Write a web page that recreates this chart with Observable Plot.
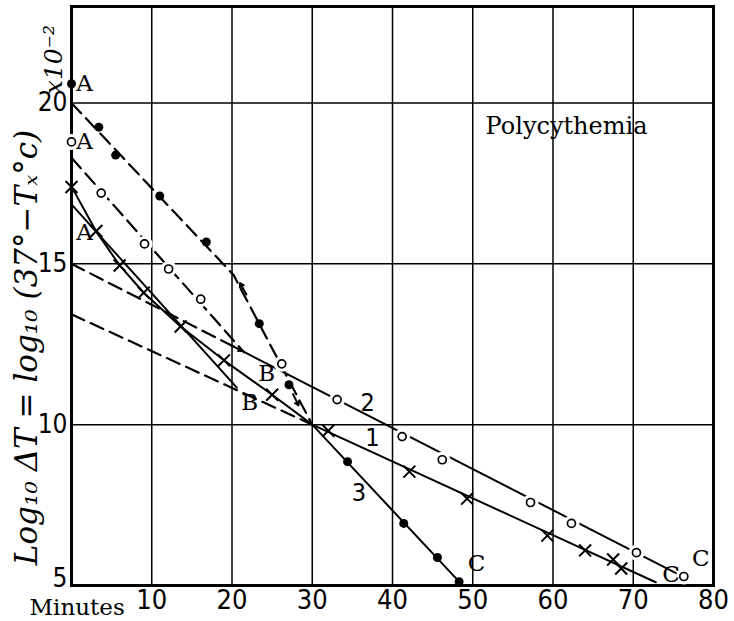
<!DOCTYPE html>
<html><head><meta charset="utf-8">
<script src="https://cdn.jsdelivr.net/npm/d3@7"></script>
<script src="https://cdn.jsdelivr.net/npm/@observablehq/plot@0.6"></script>
<style>body{margin:0;background:#fff}svg{display:block}</style>
</head><body><div id="chart"></div>
<script>
// ---- data (minutes, log10 ΔT × 10^2) ----
const xTicks = [10, 20, 30, 40, 50, 60, 70, 80];
const yTicks = [10, 15, 20];
const yTickBottom = [5];

// curve 3 : filled dots
const dots3 = [[0,20.6],[3.4,19.25],[5.5,18.38],[11.0,17.11],[16.8,15.68],[23.4,13.14],[27.1,11.24],[34.4,8.85],[41.4,6.93],[45.6,5.87],[48.3,5.12]];
// curve 2 : open circles
const circles2 = [[0,18.79],[3.7,17.2],[9.1,15.62],[12.1,14.84],[16.1,13.9],[26.2,11.89],[33.1,10.78],[41.2,9.63],[46.2,8.91],[57.2,7.58],[62.3,6.93],[70.4,6.02],[76.3,5.28]];
// curve 1 : crosses
const crosses1 = [[0,17.39],[3.1,16.02],[6.0,14.95],[9.0,14.1],[13.6,13.05],[19.0,12.0],[25.0,10.93],[32.0,9.81],[42.1,8.54],[49.3,7.70],[59.3,6.55],[64.0,6.09],[67.5,5.81],[68.5,5.53]];

// fitted lines
const line3Dashed = [[0,20],[20.2,14.65],[30,10]];
const line3Solid  = [[30,10],[48.3,5.12]];
const line2Early  = [[0,18.3],[21.5,12.25]];
const line2Extrap = [[0,15],[21.2,12.3]];
const line2Solid  = [[21.2,12.3],[76.3,5.26]];
const line1Curve  = [[0,17.4],[3.1,16.0],[6,14.95],[9,14.1],[13.6,13.05],[19,12.0],[25,10.93],[30,10],[72.8,5.1]];
const line1Early  = [[0,16.85],[20.6,11.15]];
const line1Extrap = [[0,13.43],[30,10]];

// arrowheads on dashed lines [x1,y1,x2,y2]
const arrows = [[20.0,12.45,21.2,12.3],[21.8,14.05,21.0,14.4],[27.6,10.95,28.3,10.6]];

// annotation labels
const letters = [
  {x:0, y:20.6, t:"A"}, {x:0, y:18.79, t:"A"}, {x:0, y:15.96, t:"A"},
  {x:22.7, y:11.6, t:"B"}, {x:20.6, y:10.68, t:"B"},
  {x:48.85, y:5.68, t:"C"}, {x:73.1, y:5.34, t:"C"}, {x:76.8, y:5.84, t:"C"}
];
const numbers = [{x:36.9, y:10.68, t:"2"}, {x:37.5, y:9.6, t:"1"}, {x:35.8, y:7.89, t:"3"}];
const title = "Polycythemia";
const yLabel = "Log\u2081\u2080 \u0394T = log\u2081\u2080 (37\u00b0\u2212T\u2093\u00b0c)";
const yUnit = "x10\u207b\u00b2";
const xLabel = "Minutes";

const toXY = a => a.map(([x,y]) => ({x,y}));
const dash = "14,7";
const serif = "DejaVu Serif";
const sans = "DejaVu Sans Condensed, DejaVu Sans";

const chart = Plot.plot({
  width: 734, height: 621,
  marginLeft: 71, marginRight: 21, marginTop: 6, marginBottom: 36,
  x: {domain: [0, 80]},
  y: {domain: [5, 23]},
  style: {background: "#fff", color: "#000", fontFamily: sans},
  marks: [
    Plot.gridX(xTicks, {stroke: "#000", strokeOpacity: 1, strokeWidth: 1.5}),
    Plot.gridY(yTicks, {stroke: "#000", strokeOpacity: 1, strokeWidth: 1.5}),
    Plot.frame({stroke: "#000", strokeWidth: 3}),
    Plot.axisX(xTicks, {tickSize: 0, tickPadding: 4, fontSize: 27, label: null}),
    Plot.axisY(yTicks, {tickSize: 0, tickPadding: 4, fontSize: 26, label: null}),
    Plot.axisY(yTickBottom, {tickSize: 0, tickPadding: 4, fontSize: 26, dy: -7, label: null}),
    Plot.text([xLabel], {frameAnchor: "bottom-left", dy: 29, dx: -42, fontSize: 23, fontFamily: serif, lineAnchor: "bottom"}),
    // lines
    Plot.line(toXY(line3Dashed), {x: "x", y: "y", stroke: "#000", strokeWidth: 2.2, strokeDasharray: dash}),
    Plot.line(toXY(line3Solid), {x: "x", y: "y", stroke: "#000", strokeWidth: 2}),
    Plot.line(toXY(line2Early), {x: "x", y: "y", stroke: "#000", strokeWidth: 2.2, strokeDasharray: dash}),
    Plot.line(toXY(line2Extrap), {x: "x", y: "y", stroke: "#000", strokeWidth: 2.2, strokeDasharray: dash}),
    Plot.line(toXY(line2Solid), {x: "x", y: "y", stroke: "#000", strokeWidth: 2}),
    Plot.line(toXY(line1Curve), {x: "x", y: "y", stroke: "#000", strokeWidth: 2}),
    Plot.line(toXY(line1Early), {x: "x", y: "y", stroke: "#000", strokeWidth: 2}),
    Plot.line(toXY(line1Extrap), {x: "x", y: "y", stroke: "#000", strokeWidth: 2.2, strokeDasharray: dash}),
    Plot.arrow(arrows, {x1: d => d[0], y1: d => d[1], x2: d => d[2], y2: d => d[3], stroke: "#000", strokeWidth: 2, headLength: 10}),
    // markers
    Plot.dot(toXY(circles2), {x: "x", y: "y", r: 8, fill: "#fff", stroke: "none"}),
    Plot.dot(toXY(circles2), {x: "x", y: "y", r: 4, fill: "#fff", stroke: "#000", strokeWidth: 1.7}),
    Plot.dot(toXY(dots3), {x: "x", y: "y", r: 4.5, fill: "#000", stroke: "none"}),
    Plot.dot(toXY(crosses1), {x: "x", y: "y", r: 5.5, symbol: "times", stroke: "#000", strokeWidth: 2}),
    // labels
    Plot.text(letters, {x: "x", y: "y", text: "t", dx: 13, fontSize: 23, fontFamily: serif}),
    Plot.text(numbers, {x: "x", y: "y", text: "t", fontSize: 25, fontFamily: sans}),
    Plot.text([title], {x: 51.6, y: 19.29, textAnchor: "start", fontSize: 24, fontFamily: serif}),
    Plot.text([yLabel], {x: 0, y: 12.4, dx: -44, rotate: -90, fontSize: 31, fontStyle: "italic", fontFamily: serif}),
    Plot.text([yUnit], {x: 0, y: 21.35, dx: -18, rotate: -90, fontSize: 25, fontStyle: "italic", fontFamily: serif})
  ]
});
document.getElementById("chart").append(chart);
</script>
</body></html>
